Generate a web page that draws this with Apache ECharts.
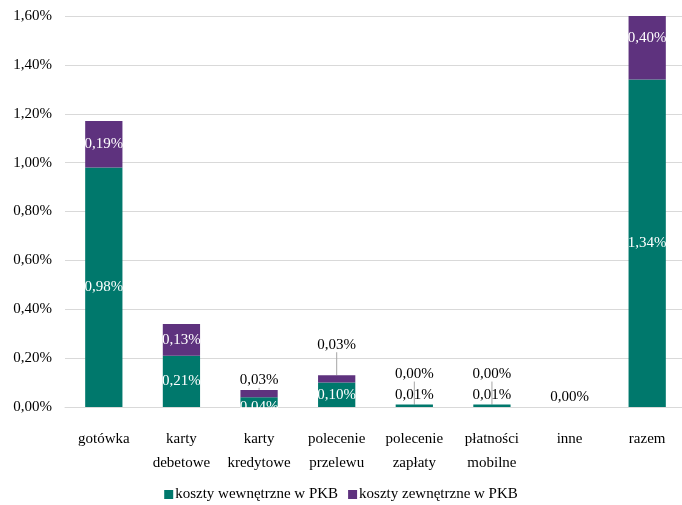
<!DOCTYPE html>
<html>
<head>
<meta charset="utf-8">
<script src="https://cdn.jsdelivr.net/npm/echarts@6/dist/echarts.min.js"></script>
<style>
  html, body { margin: 0; padding: 0; background: #fff; }
  #chart { width: 682px; height: 505px; }
</style>
</head>
<body>
<div id="chart"></div>
<script>
  // dane (% PKB)
  var categories = ['gotówka', 'karty\ndebetowe', 'karty\nkredytowe', 'polecenie\nprzelewu',
    'polecenie\nzapłaty', 'płatności\nmobilne', 'inne', 'razem'];
  var internalCost = [0.98, 0.21, 0.04, 0.10, 0.01, 0.01, 0.00, 1.34];
  var externalCost = [0.19, 0.13, 0.03, 0.03, 0.00, 0.00, 0.00, 0.40];
  var seriesNames = ['koszty wewnętrzne w PKB', 'koszty zewnętrzne w PKB'];

  var FONT = 'Liberation Serif';
  var fmt = function (v) { return v.toFixed(2).replace('.', ',') + '%'; };

  var chart = echarts.init(document.getElementById('chart'));

  // etykiety ciemne nad słupkiem dla małych wartości
  var darkTop = { position: 'top', color: '#000', distance: 2 };

  var internalData = internalCost.map(function (v, i) {
    var item = { value: v };
    if (i === 4 || i === 5 || i === 6) item.label = darkTop;
    return item;
  });
  var externalData = externalCost.map(function (v, i) {
    var item = { value: v };
    if (i === 2) item.label = darkTop;
    if (i === 3 || i === 4 || i === 5) item.label = { position: 'top', color: '#000', distance: 3 };
    if (i === 6) item.label = { show: false };
    return item;
  });

  var option = {
    animation: false,
    textStyle: { fontFamily: FONT },
    grid: { left: 65, right: -4, top: 16, bottom: 98, outerBoundsMode: 'none' },
    legend: {
      data: seriesNames,
      bottom: -2,
      left: 'center',
      icon: 'rect',
      itemWidth: 9,
      itemHeight: 9,
      itemGap: 10,
      textStyle: { fontFamily: FONT, fontSize: 15, color: '#000', padding: [0, 0, 0, -3] }
    },
    xAxis: {
      type: 'category',
      data: categories,
      axisLine: { lineStyle: { color: '#d9d9d9' } },
      axisTick: { show: false },
      axisLabel: {
        interval: 0,
        margin: 20,
        lineHeight: 24,
        fontFamily: FONT,
        fontSize: 15,
        color: '#000'
      }
    },
    yAxis: {
      type: 'value',
      min: 0,
      max: 1.6,
      interval: 0.2,
      axisLine: { show: false },
      axisTick: { show: false },
      splitLine: { lineStyle: { color: '#d9d9d9', width: 1 } },
      axisLabel: {
        margin: 13,
        fontFamily: FONT,
        fontSize: 15,
        color: '#000',
        formatter: function (v) { return fmt(v); }
      }
    },
    series: [
      {
        name: seriesNames[0],
        type: 'bar',
        stack: 'koszty',
        barWidth: '48%',
        itemStyle: { color: '#00786C' },
        label: {
          show: true,
          position: 'inside',
          color: '#fff',
          fontFamily: FONT,
          fontSize: 15,
          formatter: function (p) { return fmt(p.value); }
        },
        labelLayout: function (p) {
          if (p.dataIndex === 2) return { dy: 5 };
          return {};
        },
        data: internalData
      },
      {
        name: seriesNames[1],
        type: 'bar',
        stack: 'koszty',
        barWidth: '48%',
        itemStyle: { color: '#5E327E' },
        label: {
          show: true,
          position: 'inside',
          color: '#fff',
          fontFamily: FONT,
          fontSize: 15,
          formatter: function (p) { return fmt(p.value); }
        },
        labelLine: { show: true, lineStyle: { color: '#a6a6a6', width: 1 } },
        labelLayout: function (p) {
          // etykiety małych wartości odsunięte w górę z linią odniesienia
          if (p.dataIndex === 3) return { dy: -20 };
          if (p.dataIndex === 4 || p.dataIndex === 5) return { dy: -20 };
          if (p.dataIndex === 7) return { dy: -10 };
          return {};
        },
        data: externalData
      }
    ]
  };

  chart.setOption(option);
</script>
</body>
</html>
